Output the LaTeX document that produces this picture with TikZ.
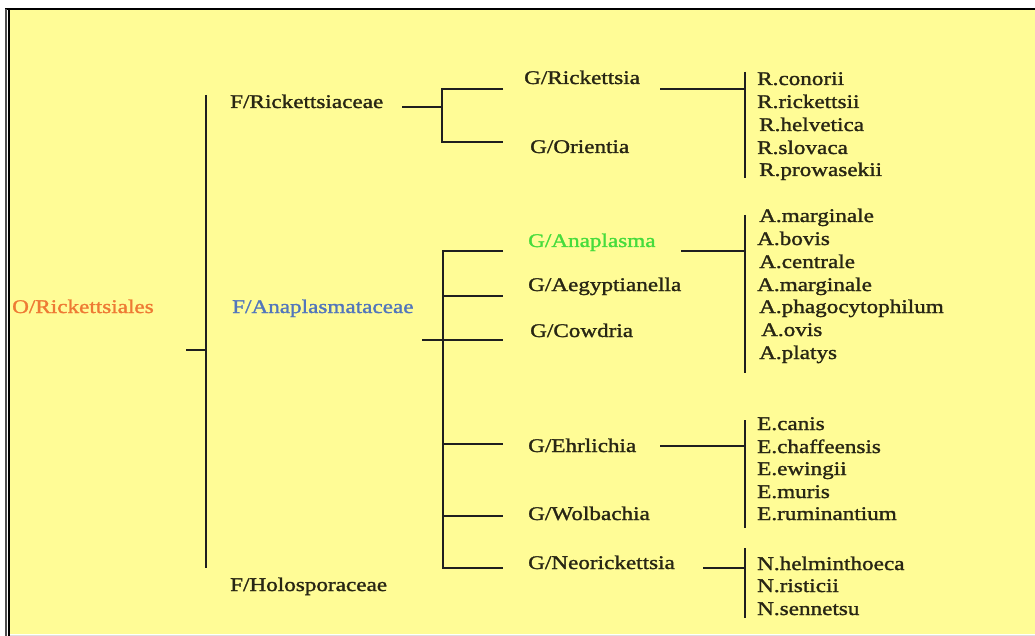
\documentclass[tikz,border=0pt]{standalone}
\usepackage{fontspec}
\setmainfont{Liberation Serif}[FakeStretch=1.2, FakeBold=1.4]
\definecolor{bg}{RGB}{255,252,150}
\definecolor{txt}{RGB}{40,38,20}
\definecolor{orangeT}{RGB}{238,122,52}
\definecolor{blueT}{RGB}{82,118,188}
\definecolor{greenT}{RGB}{70,220,60}
\begin{document}
\begin{tikzpicture}[x=1pt,y=-1pt,
  lbl/.style={anchor=base west, inner sep=0pt, text=txt, font=\fontsize{19.3}{19.3}\selectfont},
  ln/.style={line width=2pt, draw=black!88}]
\useasboundingbox (0,0) rectangle (1035,636);
% background and frame
\fill[white] (0,0) rectangle (1035,636);
\fill[bg] (9,9) rectangle (1035,634);
\draw[gray!25, line width=1pt] (9,635) -- (1035,635);
\draw[line width=2.5pt] (5,9) -- (1035,9);
\draw[line width=1.5pt, gray!60!black] (6,9) -- (6,636);
\draw[line width=1.8pt] (9,9) -- (9,636);

% order and families
\node[lbl, text=orangeT] (ord) at (12,313) {O/Rickettsiales};
\node[lbl] (fR) at (230,108) {F/Rickettsiaceae};
\node[lbl, text=blueT] (fA) at (232,313) {F/Anaplasmataceae};
\node[lbl] (fH) at (230,591) {F/Holosporaceae};

% genera
\node[lbl] (gRic) at (524,84) {G/Rickettsia};
\node[lbl] (gOri) at (530,153) {G/Orientia};
\node[lbl, text=greenT] (gAna) at (528,247) {G/Anaplasma};
\node[lbl] (gAeg) at (528,291) {G/Aegyptianella};
\node[lbl] (gCow) at (530,337) {G/Cowdria};
\node[lbl] (gEhr) at (528,452) {G/Ehrlichia};
\node[lbl] (gWol) at (528,520) {G/Wolbachia};
\node[lbl] (gNeo) at (528,569) {G/Neorickettsia};

% species: Rickettsia
\node[lbl] (r1) at (757,85) {R.conorii};
\node[lbl] (r2) at (757,108) {R.rickettsii};
\node[lbl] (r3) at (759,131) {R.helvetica};
\node[lbl] (r4) at (757,154) {R.slovaca};
\node[lbl] (r5) at (759,176) {R.prowasekii};
% Anaplasma
\node[lbl] (a1) at (759,222) {A.marginale};
\node[lbl] (a2) at (757,245) {A.bovis};
\node[lbl] (a3) at (759,268) {A.centrale};
\node[lbl] (a4) at (757,291) {A.marginale};
\node[lbl] (a5) at (759,313) {A.phagocytophilum};
\node[lbl] (a6) at (761,336) {A.ovis};
\node[lbl] (a7) at (759,359) {A.platys};
% Ehrlichia
\node[lbl] (e1) at (757,430) {E.canis};
\node[lbl] (e2) at (757,453) {E.chaffeensis};
\node[lbl] (e3) at (757,475) {E.ewingii};
\node[lbl] (e4) at (757,498) {E.muris};
\node[lbl] (e5) at (757,520) {E.ruminantium};
% Neorickettsia
\node[lbl] (n1) at (757,570) {N.helminthoeca};
\node[lbl] (n2) at (757,592) {N.risticii};
\node[lbl] (n3) at (757,615) {N.sennetsu};

% junction coordinates
\coordinate (oS) at (186,350);
\coordinate (oJ) at (206,350);
\coordinate (oT) at (206,95);
\coordinate (oB) at (206,568);

\coordinate (fRs) at (402,107);
\coordinate (fRj) at (442,107);
\coordinate (fRt) at (442,89);
\coordinate (fRb) at (442,142);
\coordinate (gRicL) at (503,89);
\coordinate (gOriL) at (503,142);

\coordinate (gRicR) at (660,89);
\coordinate (sRj) at (745,89);
\coordinate (sRt) at (745,72);
\coordinate (sRb) at (745,178);

\coordinate (fAs) at (422,340);
\coordinate (fAt) at (443,251);
\coordinate (fAb) at (443,568);
\coordinate (fA1) at (443,296);
\coordinate (fA2) at (443,340);
\coordinate (fA3) at (443,444);
\coordinate (fA4) at (443,516);
\coordinate (gAnaL) at (503,251);
\coordinate (gAegL) at (503,296);
\coordinate (gCowL) at (503,340);
\coordinate (gEhrL) at (503,444);
\coordinate (gWolL) at (503,516);
\coordinate (gNeoL) at (503,568);

\coordinate (gAnaR) at (681,251);
\coordinate (sAj) at (745,251);
\coordinate (sAt) at (745,215);
\coordinate (sAb) at (745,373);

\coordinate (gEhrR) at (660,446);
\coordinate (sEj) at (745,446);
\coordinate (sEt) at (745,420);
\coordinate (sEb) at (745,528);

\coordinate (gNeoR) at (703,568);
\coordinate (sNj) at (745,568);
\coordinate (sNt) at (745,548);
\coordinate (sNb) at (745,618);

% connectors
\draw[ln] (oS) -- (oJ);
\draw[ln] (oT) -- (oB);

\draw[ln] (fRs) -- (fRj);
\draw[ln] (gRicL) -- (fRt) -- (fRb) -- (gOriL);
\draw[ln] (gRicR) -- (sRj);
\draw[ln] (sRt) -- (sRb);

\draw[ln] (fAs) -- (fA2);
\draw[ln] (gAnaL) -- (fAt) -- (fAb) -- (gNeoL);
\draw[ln] (fA1) -- (gAegL);
\draw[ln] (fA2) -- (gCowL);
\draw[ln] (fA3) -- (gEhrL);
\draw[ln] (fA4) -- (gWolL);

\draw[ln] (gAnaR) -- (sAj);
\draw[ln] (sAt) -- (sAb);
\draw[ln] (gEhrR) -- (sEj);
\draw[ln] (sEt) -- (sEb);
\draw[ln] (gNeoR) -- (sNj);
\draw[ln] (sNt) -- (sNb);
\end{tikzpicture}
\end{document}
